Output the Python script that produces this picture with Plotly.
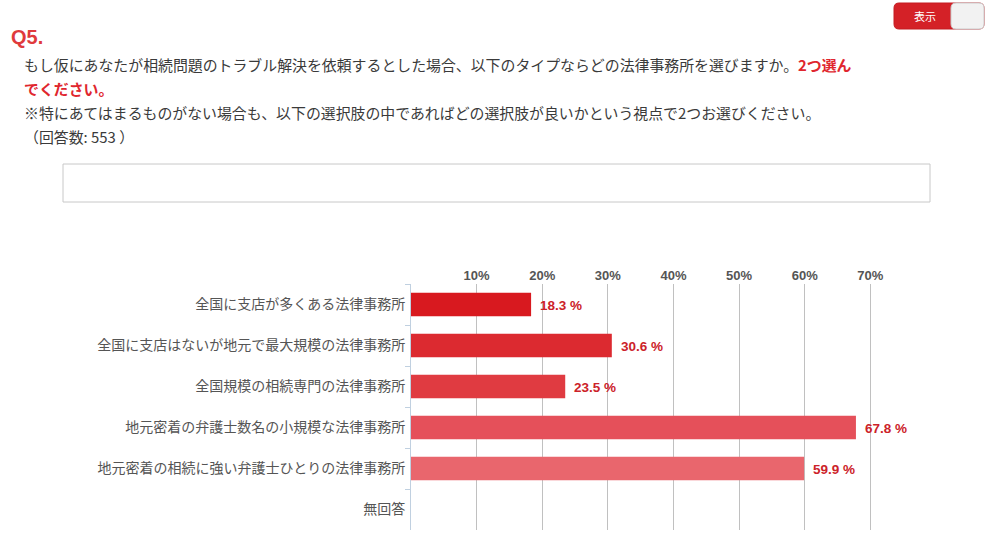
import plotly.graph_objects as go

categories = [
    "全国に支店が多くある法律事務所",
    "全国に支店はないが地元で最大規模の法律事務所",
    "全国規模の相続専門の法律事務所",
    "地元密着の弁護士数名の小規模な法律事務所",
    "地元密着の相続に強い弁護士ひとりの法律事務所",
    "無回答",
]
values = [18.3, 30.6, 23.5, 67.8, 59.9, None]
bar_colors = ["#d8191f", "#dc2a30", "#e03b41", "#e5505a", "#e9666d", "#ee7d83"]
tick_vals = [10, 20, 30, 40, 50, 60, 70]
tick_text = ["10%", "20%", "30%", "40%", "50%", "60%", "70%"]

W, H = 993, 542
L, R, T, B = 411, 57, 284, 12
PW, PH = W - L - R, H - T - B


def px(x):
    return (x - L) / PW


def py(y):
    return (H - B - y) / PH


def rrect(x0, y0, x1, y1, r):
    pts = [
        f"M{px(x0 + r)},{py(y0)}",
        f"L{px(x1 - r)},{py(y0)}",
        f"Q{px(x1)},{py(y0)} {px(x1)},{py(y0 + r)}",
        f"L{px(x1)},{py(y1 - r)}",
        f"Q{px(x1)},{py(y1)} {px(x1 - r)},{py(y1)}",
        f"L{px(x0 + r)},{py(y1)}",
        f"Q{px(x0)},{py(y1)} {px(x0)},{py(y1 - r)}",
        f"L{px(x0)},{py(y0 + r)}",
        f"Q{px(x0)},{py(y0)} {px(x0 + r)},{py(y0)}",
        "Z",
    ]
    return " ".join(pts)


fig = go.Figure()
fig.add_trace(go.Bar(
    x=values, y=categories, orientation="h",
    marker=dict(color=bar_colors, line=dict(width=0)),
    width=0.57, hoverinfo="skip", showlegend=False,
))

JP = "Noto Sans CJK JP"
annotations = []
for c, v in zip(categories, values):
    if v is None:
        continue
    annotations.append(dict(
        x=v, y=c, xref="x", yref="y", text=f"<b>{v:.1f} %</b>",
        showarrow=False, xanchor="left", yanchor="middle", xshift=7, yshift=-1,
        font=dict(family="Liberation Sans, Arial", size=13.5, color="#cc2229"),
    ))

red = "#e0262e"
body = dict(family=JP, size=14.9, color="#3a3a3a")
title_lines = [
    ("<b>Q5.</b>", 9, 37, dict(family="Liberation Sans, Arial", size=20, color="#e03a3c")),
    ("もし仮にあなたが相続問題のトラブル解決を依頼するとした場合、以下のタイプならどの法律事務所を選びますか。"
     f"<span style='color:{red}'><b>2つ選ん</b></span>", 22, 64, body),
    (f"<span style='color:{red}'><b>でください。</b></span>", 22, 88, body),
    ("※特にあてはまるものがない場合も、以下の選択肢の中であればどの選択肢が良いかという視点で2つお選びください。",
     22, 112, body),
    ("（回答数: 553 ）", 22, 137, body),
    ("表示", 925, 16, dict(family=JP, size=11, color="#ffffff")),
]
for txt, x, y, f in title_lines:
    annotations.append(dict(
        x=px(x), y=py(y), xref="paper", yref="paper", text=txt, showarrow=False,
        xanchor="center" if txt == "表示" else "left", yanchor="middle", font=f,
    ))

shapes = [
    dict(type="rect", xref="paper", yref="paper", x0=px(63), x1=px(930), y0=py(164), y1=py(202),
         line=dict(color="#c8c8c8", width=1), fillcolor="rgba(0,0,0,0)", layer="below"),
    dict(type="path", xref="paper", yref="paper", path=rrect(894, 3, 984, 29, 5),
         fillcolor="#d42127", line=dict(color="#c41c22", width=1)),
    dict(type="path", xref="paper", yref="paper", path=rrect(951, 3, 984, 29, 5),
         fillcolor="#f2f2f2", line=dict(color="#cccccc", width=1)),
]

fig.update_layout(
    width=W, height=H,
    margin=dict(l=L, r=R, t=T, b=B, pad=0),
    paper_bgcolor="white", plot_bgcolor="white",
    bargap=0.43,
    annotations=annotations,
    shapes=shapes,
    xaxis=dict(
        range=[0, 80], side="top", tickvals=tick_vals, ticktext=tick_text,
        showgrid=True, gridcolor="#c0c0c0", gridwidth=1, zeroline=False,
        showline=False, ticks="", fixedrange=True,
        tickfont=dict(family="Liberation Sans, Arial", size=13, color="#555555"),
    ),
    yaxis=dict(
        autorange="reversed", showline=True, linecolor="#c0d0e0", linewidth=1,
        ticks="outside", tickson="boundaries", ticklen=5, tickcolor="#c0d0e0",
        showgrid=False, zeroline=False, fixedrange=True, ticklabelstandoff=2,
        tickfont=dict(family=JP, size=14, color="#555555"),
    ),
)
fig.update_xaxes(tickfont_weight="bold")

fig.write_html("out.html")
